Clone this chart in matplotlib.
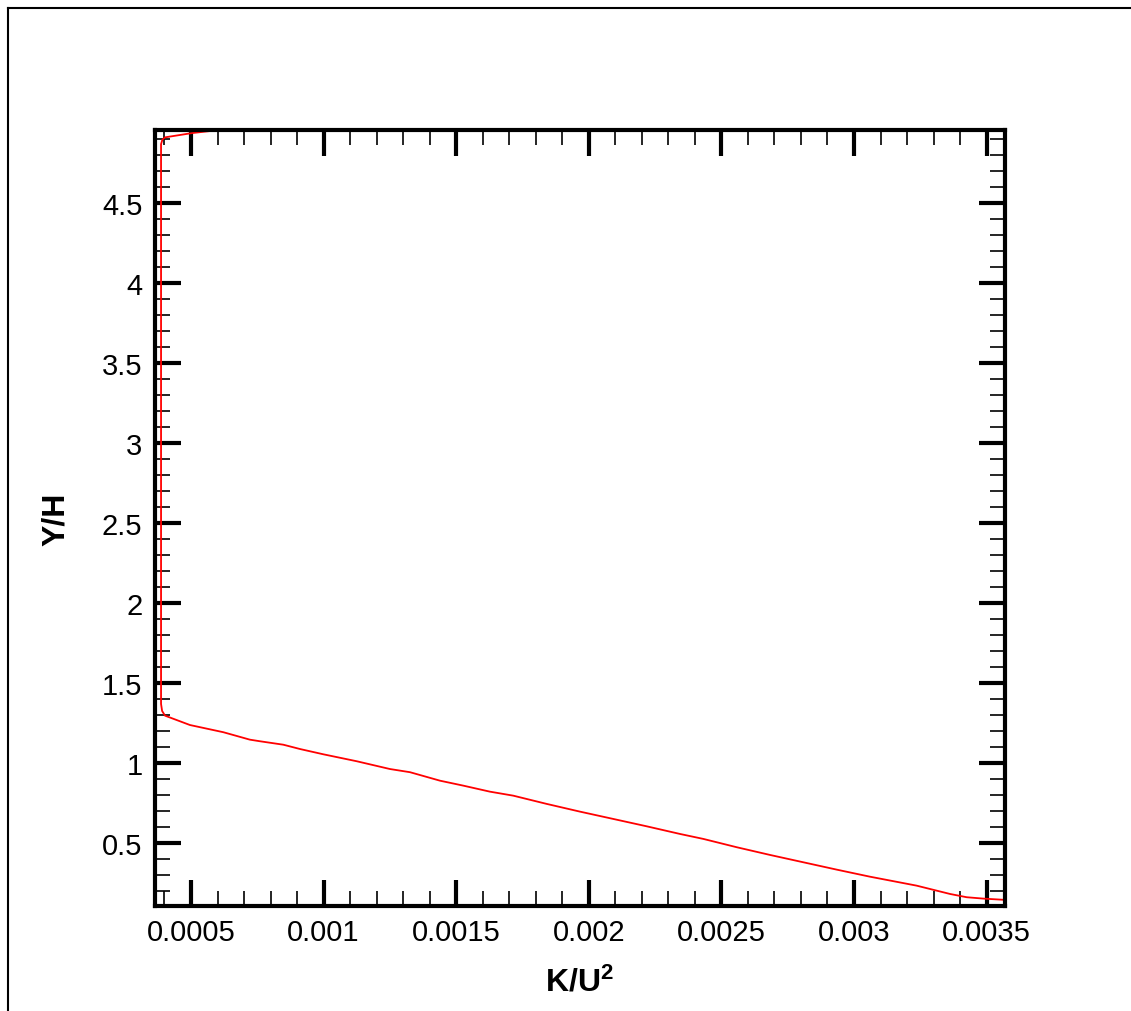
import matplotlib

matplotlib.use("Agg")
import matplotlib.pyplot as plt
from matplotlib.lines import Line2D
from matplotlib.ticker import FuncFormatter, MultipleLocator

plt.rcParams["font.family"] = ["Liberation Sans", "DejaVu Sans"]
plt.rcParams["mathtext.fontset"] = "custom"
plt.rcParams["mathtext.bf"] = "Liberation Sans:bold"
plt.rcParams["mathtext.rm"] = "Liberation Sans"

# profile of turbulent kinetic energy vs height
K_U2 = [
    0.000572, 0.000503, 0.000402, 0.000392, 0.000387, 0.000387, 0.000391,
    0.000402, 0.000496, 0.000622, 0.000722, 0.000760, 0.000848, 0.000911,
    0.000999, 0.001125, 0.001250, 0.001326, 0.001439, 0.001527, 0.001627,
    0.001715, 0.001841, 0.001967, 0.002092, 0.002218, 0.002344, 0.002432,
    0.002558, 0.002683, 0.002809, 0.002935, 0.003060, 0.003236, 0.003362,
    0.003425, 0.003487, 0.003569,
]
Y_H = [
    4.952, 4.939, 4.9125, 4.8975, 4.87, 1.371, 1.327,
    1.2975, 1.239, 1.194, 1.1475, 1.1375, 1.116, 1.089,
    1.056, 1.0125, 0.964, 0.944, 0.891, 0.860, 0.8225,
    0.7975, 0.746, 0.6975, 0.652, 0.606, 0.558, 0.527,
    0.475, 0.427, 0.381, 0.335, 0.291, 0.235, 0.183,
    0.1625, 0.154, 0.146,
]

fig = plt.figure(figsize=(11.31, 10.12), dpi=100)
ax = fig.add_axes([0.137, 0.1038, 0.7515, 0.767])

ax.plot(K_U2, Y_H, color="red", lw=1.3)

ax.set_xlim(0.000364, 0.003569)
ax.set_ylim(0.108, 4.96)

ax.xaxis.set_major_locator(MultipleLocator(0.0005))
ax.xaxis.set_minor_locator(MultipleLocator(0.0001))
ax.yaxis.set_major_locator(MultipleLocator(0.5))
ax.yaxis.set_minor_locator(MultipleLocator(0.1))
fmt = FuncFormatter(lambda v, p: f"{v:g}")
ax.xaxis.set_major_formatter(fmt)
ax.yaxis.set_major_formatter(fmt)

ax.tick_params(which="both", direction="in", top=True, right=True, labelsize=21)
ax.tick_params(which="major", length=19, width=3, pad=9)
ax.tick_params(which="minor", length=11, width=1.2)
for s in ax.spines.values():
    s.set_linewidth(3)

ax.set_xlabel(r"$\mathbf{K/U^2}$", fontsize=23, labelpad=14)
ax.set_ylabel("Y/H", fontsize=23, fontweight="bold", labelpad=22)

# outer frame along the left and top edges
fig.add_artist(Line2D([0.0068, 0.0068], [0.0, 0.9911], transform=fig.transFigure,
                      color="black", lw=1.5))
fig.add_artist(Line2D([0.0068, 1.0], [0.9911, 0.9911], transform=fig.transFigure,
                      color="black", lw=1.5))

fig.savefig("out.png", dpi=100)
